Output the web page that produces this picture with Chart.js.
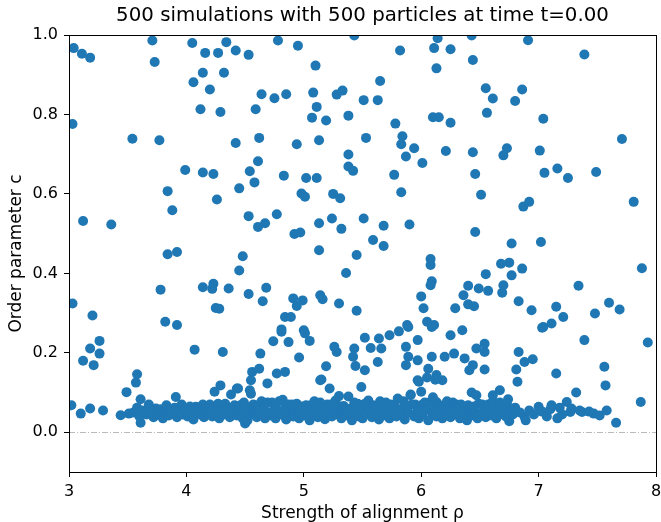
<!DOCTYPE html>
<html>
<head>
<meta charset="utf-8">
<script src="https://cdn.jsdelivr.net/npm/chart.js@4.4.0/dist/chart.umd.min.js"></script>
<style>
  html, body { margin: 0; padding: 0; background: #fff; }
  #wrap { width: 661px; height: 522px; }
</style>
</head>
<body>
<div id="wrap"><canvas id="c"></canvas></div>
<script>
// --- data: [rho, c] --------------------------------------------------
const titleText = '500 simulations with 500 particles at time t=0.00';
const xTicks = [3, 4, 5, 6, 7, 8];
const yTicks = [0.0, 0.2, 0.4, 0.6, 0.8, 1.0];

// c above ~0.6
const highPoints = [
  [3.04,0.967],[3.11,0.953],[3.18,0.943],[3.71,0.986],[3.73,0.932],[4.05,0.980],[4.16,0.955],[4.27,0.955],
  [4.34,0.982],[4.42,0.961],[4.53,0.950],[4.14,0.905],[4.32,0.905],[4.06,0.881],[4.20,0.863],[4.12,0.813],
  [4.29,0.806],[4.59,0.813],[3.03,0.776],[3.54,0.739],[3.77,0.735],[4.42,0.728],[4.62,0.741],[3.99,0.660],
  [4.14,0.654],[4.23,0.650],[4.54,0.657],[4.61,0.682],[4.78,0.986],[4.95,0.973],[5.43,0.999],[5.10,0.923],
  [5.82,0.961],[6.14,0.992],[6.11,0.967],[6.25,0.964],[6.13,0.916],[5.65,0.884],[4.64,0.851],[4.75,0.841],
  [4.85,0.851],[5.08,0.855],[5.28,0.850],[5.33,0.860],[5.51,0.836],[5.63,0.836],[5.11,0.819],[5.07,0.792],
  [5.19,0.785],[5.38,0.797],[5.78,0.777],[6.10,0.793],[6.15,0.793],[6.25,0.779],[4.94,0.725],[5.13,0.735],
  [5.53,0.741],[5.84,0.745],[5.83,0.725],[5.94,0.715],[5.87,0.694],[6.01,0.678],[6.21,0.708],[5.38,0.699],
  [5.38,0.669],[5.42,0.658],[4.83,0.646],[5.02,0.640],[5.11,0.640],[5.77,0.648],[6.43,0.999],[6.91,0.987],
  [7.39,0.951],[6.44,0.937],[6.55,0.866],[6.86,0.863],[6.61,0.840],[6.80,0.834],[6.56,0.804],[7.04,0.789],
  [7.71,0.738],[6.44,0.705],[6.73,0.715],[6.70,0.697],[7.01,0.709],[6.46,0.650],[7.05,0.653],[7.16,0.664],
  [7.25,0.640],[7.49,0.655]
];

// c between ~0.25 and 0.6
const midPoints = [
  [4.45,0.614],[4.58,0.629],[3.84,0.607],[4.26,0.586],[3.88,0.559],[4.53,0.544],[4.61,0.517],[3.12,0.532],
  [3.36,0.523],[3.84,0.448],[3.92,0.454],[4.48,0.443],[4.45,0.407],[3.78,0.359],[4.14,0.365],[4.23,0.374],
  [4.22,0.361],[4.36,0.362],[4.53,0.348],[4.65,0.330],[3.03,0.324],[3.20,0.294],[4.25,0.313],[4.28,0.311],
  [3.82,0.278],[3.92,0.270],[4.98,0.601],[5.01,0.593],[5.25,0.600],[5.31,0.589],[5.83,0.604],[4.77,0.549],
  [4.67,0.526],[4.92,0.499],[4.97,0.503],[5.13,0.526],[5.24,0.538],[5.32,0.512],[5.51,0.538],[5.68,0.520],
  [5.90,0.523],[5.59,0.484],[5.68,0.469],[5.13,0.458],[5.45,0.446],[5.36,0.401],[6.08,0.436],[6.08,0.421],
  [6.09,0.380],[6.08,0.370],[6.00,0.342],[6.02,0.312],[6.29,0.312],[6.05,0.278],[6.11,0.270],[5.88,0.270],
  [4.68,0.364],[4.91,0.337],[4.94,0.318],[4.99,0.332],[5.14,0.345],[5.16,0.335],[5.30,0.324],[5.45,0.306],
  [4.84,0.290],[4.89,0.290],[4.81,0.259],[5.00,0.257],[6.51,0.598],[6.87,0.568],[6.92,0.580],[7.81,0.580],
  [6.46,0.504],[6.77,0.475],[7.02,0.479],[6.68,0.424],[6.75,0.427],[6.86,0.412],[6.55,0.398],[6.77,0.395],
  [7.88,0.413],[6.40,0.369],[6.49,0.362],[6.57,0.356],[6.70,0.370],[6.69,0.351],[7.34,0.369],[6.36,0.345],
  [6.40,0.322],[6.45,0.317],[6.83,0.330],[6.94,0.307],[7.15,0.316],[7.21,0.290],[7.60,0.326],[7.69,0.309],
  [7.48,0.299],[7.04,0.265],[7.11,0.274],[6.35,0.257]
];

// c between ~0.1 and 0.25, plus the stray low points at the edges
const lowPoints = [
  [3.26,0.230],[3.18,0.211],[3.26,0.198],[3.12,0.180],[3.21,0.169],[4.07,0.208],[4.31,0.202],[3.58,0.146],
  [3.57,0.125],[3.49,0.101],[4.29,0.118],[4.24,0.102],[4.43,0.110],[4.55,0.097],[4.56,0.152],[4.55,0.131],
  [4.81,0.253],[4.74,0.229],[4.87,0.227],[5.01,0.249],[5.05,0.230],[4.63,0.198],[4.96,0.188],[4.62,0.160],
  [4.77,0.148],[4.84,0.152],[4.69,0.123],[5.26,0.215],[5.28,0.202],[5.19,0.166],[5.15,0.133],[5.22,0.110],
  [5.49,0.114],[5.30,0.091],[5.52,0.238],[5.43,0.211],[5.57,0.212],[5.42,0.190],[5.44,0.167],[5.52,0.156],
  [5.63,0.177],[5.64,0.236],[5.73,0.244],[5.66,0.211],[5.81,0.254],[5.89,0.265],[5.97,0.232],[5.87,0.215],
  [5.89,0.190],[5.87,0.169],[5.97,0.181],[6.06,0.160],[6.09,0.190],[6.20,0.190],[6.28,0.198],[6.25,0.244],
  [6.09,0.265],[5.97,0.131],[6.13,0.144],[6.18,0.131],[5.91,0.093],[6.00,0.102],[6.13,0.076],[7.03,0.263],
  [7.39,0.232],[7.93,0.226],[6.47,0.211],[6.54,0.223],[6.54,0.202],[6.37,0.186],[6.44,0.169],[6.41,0.156],
  [6.54,0.158],[6.83,0.202],[6.88,0.177],[6.95,0.184],[6.81,0.158],[6.82,0.127],[7.15,0.148],[7.56,0.165],
  [7.57,0.118],[7.32,0.100],[7.87,0.076],[6.43,0.100],[6.47,0.093],[6.67,0.106],[6.61,0.093],[6.74,0.083],
  [6.75,0.028],[6.88,0.039],[6.89,0.030],[7.00,0.064],[7.11,0.068],[7.24,0.076],[7.27,0.051],[7.16,0.035],
  [7.37,0.051],[7.47,0.047],[7.66,0.024],[3.02,0.068],[3.10,0.047],[3.18,0.060],[3.29,0.055],[3.44,0.043],
  [3.51,0.047],[3.61,0.083],[3.61,0.024],[3.91,0.089],[4.08,0.064],[4.50,0.022],[4.54,0.106],[5.14,0.131],
  [5.98,0.127],[6.05,0.138],[6.12,0.132],[4.44,0.110]
];

// the crowded band just above zero
const bandPoints = [
  [3.55,0.050],[3.58,0.062],[3.60,0.040],[3.63,0.055],[3.66,0.045],[3.68,0.070],[3.70,0.052],[3.72,0.038],
  [3.74,0.060],[3.76,0.045],[3.78,0.058],[3.80,0.035],[3.81,0.050],[3.83,0.068],[3.85,0.042],[3.86,0.055],
  [3.88,0.048],[3.90,0.062],[3.92,0.038],[3.94,0.052],[3.96,0.070],[3.97,0.045],[3.99,0.058],[4.01,0.040],
  [4.03,0.065],[4.05,0.050],[4.06,0.032],[4.10,0.055],[4.12,0.045],[4.14,0.070],[4.15,0.038],[4.17,0.058],
  [4.19,0.048],[4.20,0.070],[4.22,0.040],[4.23,0.062],[4.25,0.050],[4.27,0.072],[4.28,0.035],[4.30,0.055],
  [4.32,0.045],[4.33,0.072],[4.35,0.060],[4.37,0.038],[4.38,0.095],[4.40,0.052],[4.41,0.068],[4.43,0.042],
  [4.45,0.058],[4.46,0.068],[4.48,0.035],[4.49,0.075],[4.51,0.050],[4.52,0.030],[4.54,0.062],[4.55,0.045],
  [4.57,0.070],[4.58,0.055],[4.60,0.038],[4.61,0.068],[4.63,0.048],[4.64,0.078],[4.66,0.060],[4.67,0.035],
  [4.69,0.075],[4.70,0.050],[4.72,0.042],[4.73,0.075],[4.75,0.062],[4.76,0.035],[4.78,0.055],[4.79,0.078],
  [4.81,0.045],[4.82,0.082],[4.84,0.060],[4.85,0.032],[4.87,0.070],[4.88,0.050],[4.90,0.070],[4.91,0.040],
  [4.93,0.058],[4.94,0.072],[4.96,0.035],[4.97,0.052],[4.99,0.065],[5.00,0.042],[5.02,0.068],[5.03,0.055],
  [5.05,0.030],[5.06,0.068],[5.08,0.045],[5.09,0.078],[5.11,0.060],[5.12,0.038],[5.14,0.075],[5.15,0.050],
  [5.17,0.062],[5.18,0.033],[5.20,0.070],[5.21,0.048],[5.23,0.070],[5.24,0.040],[5.26,0.058],[5.27,0.080],
  [5.29,0.045],[5.31,0.065],[5.32,0.035],[5.34,0.066],[5.35,0.052],[5.37,0.042],[5.38,0.090],[5.40,0.060],
  [5.41,0.030],[5.43,0.075],[5.44,0.050],[5.46,0.072],[5.47,0.040],[5.49,0.062],[5.50,0.035],[5.52,0.072],
  [5.53,0.048],[5.55,0.080],[5.56,0.058],[5.58,0.038],[5.59,0.068],[5.61,0.050],[5.62,0.065],[5.64,0.032],
  [5.65,0.078],[5.67,0.055],[5.68,0.042],[5.70,0.075],[5.71,0.060],[5.73,0.035],[5.74,0.070],[5.76,0.050],
  [5.77,0.068],[5.79,0.040],[5.80,0.085],[5.82,0.058],[5.83,0.045],[5.85,0.078],[5.86,0.032],[5.88,0.062],
  [5.89,0.050],[5.91,0.095],[5.92,0.070],[5.94,0.040],[5.95,0.070],[5.97,0.055],[5.98,0.035],[6.00,0.068],
  [6.01,0.045],[6.03,0.075],[6.04,0.058],[6.06,0.030],[6.07,0.075],[6.09,0.050],[6.10,0.088],[6.12,0.062],
  [6.13,0.040],[6.15,0.066],[6.16,0.052],[6.18,0.035],[6.19,0.068],[6.21,0.045],[6.22,0.078],[6.24,0.058],
  [6.25,0.038],[6.27,0.075],[6.28,0.050],[6.30,0.070],[6.31,0.062],[6.33,0.035],[6.34,0.070],[6.36,0.045],
  [6.37,0.055],[6.39,0.030],[6.40,0.068],[6.42,0.058],[6.43,0.042],[6.45,0.065],[6.46,0.050],[6.48,0.035],
  [6.49,0.072],[6.51,0.048],[6.52,0.070],[6.54,0.060],[6.55,0.038],[6.57,0.070],[6.58,0.052],[6.60,0.042],
  [6.61,0.078],[6.63,0.055],[6.64,0.035],[6.66,0.065],[6.67,0.075],[6.69,0.048],[6.70,0.060],[6.72,0.040],
  [6.73,0.072],[6.76,0.055],[6.78,0.045],[6.80,0.062],[6.84,0.050],[6.92,0.055],[6.96,0.045],[7.03,0.052],
  [7.07,0.040],[7.10,0.058],[7.18,0.062],[7.20,0.045],[7.28,0.060],[7.35,0.055],[7.43,0.052],[7.52,0.042],
  [7.58,0.055]
];

// --- helpers ---------------------------------------------------------
const toXY = (arr) => arr.map(([x, y]) => ({ x, y }));
const FONT = '"DejaVu Sans", "Liberation Sans", sans-serif';

// title, zero line and the axes box, like matplotlib draws them
const framePlugin = {
  id: 'frame',
  beforeDatasetsDraw(chart) {
    const { ctx, chartArea: a, scales } = chart;
    const y0 = Math.round(scales.y.getPixelForValue(0)) + 0.5;
    ctx.save();
    ctx.strokeStyle = '#aaaaaa';
    ctx.lineWidth = 0.8;
    ctx.setLineDash([6, 2, 1, 2]);
    ctx.beginPath();
    ctx.moveTo(a.left, y0);
    ctx.lineTo(a.right, y0);
    ctx.stroke();
    ctx.restore();
  },
  afterDatasetsDraw(chart) {
    const { ctx, chartArea: a } = chart;
    ctx.save();
    ctx.strokeStyle = '#000';
    ctx.lineWidth = 1;
    ctx.strokeRect(Math.round(a.left) + 0.5, Math.round(a.top) + 0.5,
      Math.round(a.right - a.left), Math.round(a.bottom - a.top));
    ctx.fillStyle = '#000';
    ctx.font = `19.8px ${FONT}`;
    ctx.textAlign = 'center';
    ctx.textBaseline = 'middle';
    ctx.fillText(titleText, (a.left + a.right) / 2, 16);
    ctx.restore();
  }
};

new Chart(document.getElementById('c'), {
  type: 'scatter',
  data: {
    datasets: [{
      data: toXY([...highPoints, ...midPoints, ...lowPoints, ...bandPoints]),
      backgroundColor: '#1f77b4',
      borderColor: '#1f77b4',
      borderWidth: 0,
      pointRadius: 5,
      clip: 0
    }]
  },
  options: {
    responsive: true,
    maintainAspectRatio: false,
    animation: false,
    devicePixelRatio: 1,
    layout: { padding: { top: 35, right: 4, left: 0, bottom: 0 } },
    scales: {
      x: {
        type: 'linear',
        min: 3,
        max: 8,
        afterFit: (s) => { s.height = 50; s.paddingLeft = 0; s.paddingRight = 0; },
        afterBuildTicks: (s) => { s.ticks = xTicks.map(v => ({ value: v })); },
        border: { display: false },
        grid: { drawOnChartArea: false, drawTicks: true, tickLength: 5, tickColor: '#000' },
        ticks: { color: '#000', padding: 5, font: { family: FONT, size: 16 }, callback: (v) => String(v) },
        title: { display: true, text: 'Strength of alignment ρ', color: '#000',
                 font: { family: FONT, size: 17 }, padding: { top: 0, bottom: -2 } }
      },
      y: {
        min: -0.1,
        max: 1.0,
        afterFit: (s) => { s.width = 69; s.paddingTop = 0; s.paddingBottom = 0; },
        afterBuildTicks: (s) => { s.ticks = yTicks.map(v => ({ value: v })); },
        border: { display: false },
        grid: { drawOnChartArea: false, drawTicks: true, tickLength: 5, tickColor: '#000' },
        ticks: { color: '#000', padding: 6, font: { family: FONT, size: 16 }, callback: (v) => v.toFixed(1) },
        title: { display: true, text: 'Order parameter c', color: '#000',
                 font: { family: FONT, size: 17 }, padding: { top: 6, bottom: 0 } }
      }
    },
    plugins: {
      legend: { display: false },
      tooltip: { enabled: false },
      title: { display: false }
    }
  },
  plugins: [framePlugin]
});
</script>
</body>
</html>
